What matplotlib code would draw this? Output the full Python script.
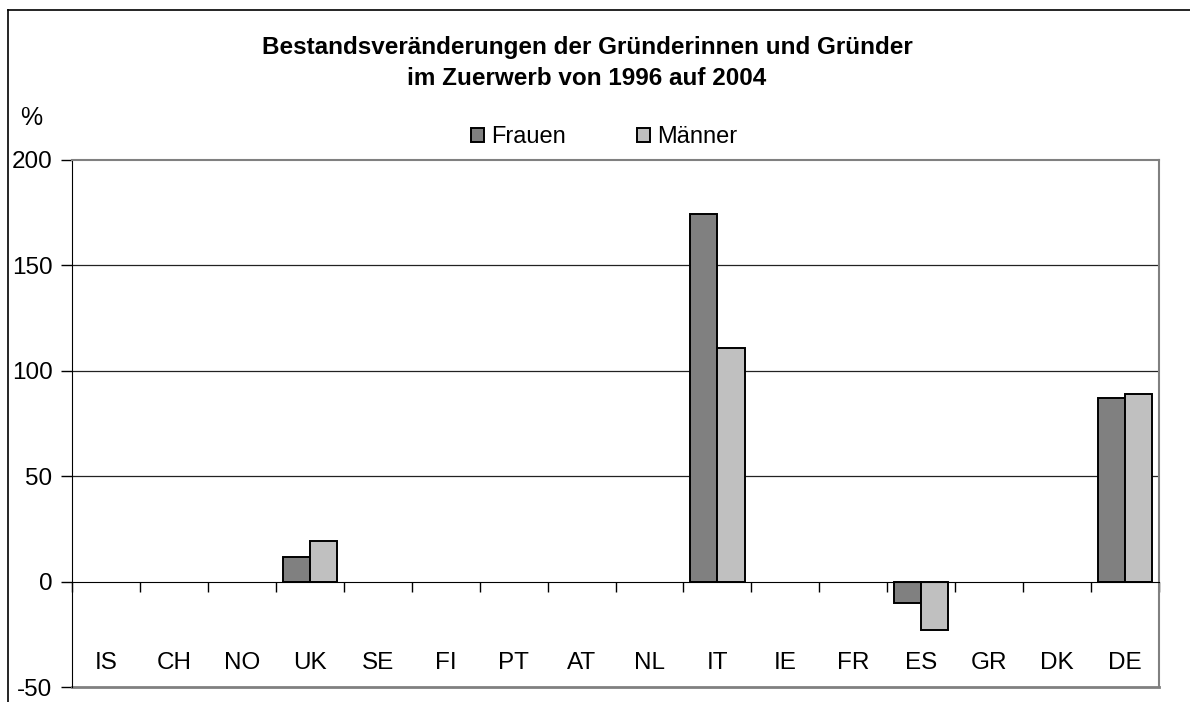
import numpy as np
import matplotlib.pyplot as plt
from matplotlib.lines import Line2D

plt.rcParams['font.family'] = ['Liberation Sans', 'DejaVu Sans']

laender = ["IS", "CH", "NO", "UK", "SE", "FI", "PT", "AT", "NL", "IT", "IE", "FR", "ES", "GR", "DK", "DE"]
frauen = [0, 0, 0, 12, 0, 0, 0, 0, 0, 174.5, 0, 0, -10, 0, 0, 87]
maenner = [0, 0, 0, 19.5, 0, 0, 0, 0, 0, 111, 0, 0, -23, 0, 0, 89]

W, H = 1190, 702
fig = plt.figure(figsize=(W / 100, H / 100), dpi=100)
ax = fig.add_axes([72 / W, 1 - 687.3 / H, (1159 - 72) / W, (687.3 - 160) / H])

x = np.arange(len(laender))
b = 0.4
# valeurs nulles : pas de barre dessinée
f_idx = [i for i, v in enumerate(frauen) if v != 0]
m_idx = [i for i, v in enumerate(maenner) if v != 0]
ax.bar(x[f_idx] - b / 2, [frauen[i] for i in f_idx], width=b, color="#808080",
       edgecolor="black", linewidth=1.4, label="Frauen", zorder=3)
ax.bar(x[m_idx] + b / 2, [maenner[i] for i in m_idx], width=b, color="#c0c0c0",
       edgecolor="black", linewidth=1.4, label="Männer", zorder=3)

ax.set_xlim(-0.5, len(laender) - 0.5)
ax.set_ylim(-50, 200)
ax.set_yticks([-50, 0, 50, 100, 150, 200])
ax.set_yticklabels(["-50", "0", "50", "100", "150", "200"])
ax.tick_params(axis="y", direction="out", length=8, width=1, pad=6, labelsize=17.5)

# axe des catégories sur la ligne zéro
ax.spines["bottom"].set_position(("data", 0))
ax.spines["bottom"].set_color("black")
ax.spines["bottom"].set_zorder(4)
ax.set_xticks(np.arange(len(laender) + 1) - 0.5)
ax.tick_params(axis="x", direction="out", length=7, width=1, labelbottom=False)

ax.spines["left"].set_color("black")
for s in ["top", "right"]:
    ax.spines[s].set_color("#808080")
    ax.spines[s].set_linewidth(1.5)
ax.axhline(-50, color="#808080", lw=2, clip_on=False, zorder=2)

for g in [50, 100, 150]:
    ax.axhline(g, color="#222222", lw=0.9, zorder=1)

for i, lab in enumerate(laender):
    ax.text(i, -38.5, lab, ha="center", va="center", fontsize=17.5)

fig.text(587 / W, 1 - 63 / H, "Bestandsveränderungen der Gründerinnen und Gründer\nim Zuerwerb von 1996 auf 2004",
         ha="center", va="center", fontsize=17.5, fontweight="bold", linespacing=1.45)
fig.text(31 / W, 1 - 118 / H, "%", ha="center", va="center", fontsize=18)

fig.legend(loc="center", bbox_to_anchor=(604 / W, 1 - 137 / H), ncol=2, frameon=False,
           fontsize=17, handlelength=0.55, handleheight=0.55, handletextpad=0.3,
           columnspacing=3.0, borderpad=0)

# cadre du graphique
fig.add_artist(Line2D([8 / W, 8 / W], [0, 1 - 10 / H], color="black", lw=1.2))
fig.add_artist(Line2D([8 / W, 1], [1 - 10 / H, 1 - 10 / H], color="black", lw=1.2))

fig.savefig("out.png", dpi=100)
